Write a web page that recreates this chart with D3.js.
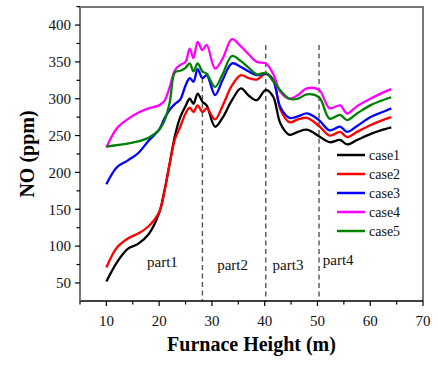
<!DOCTYPE html>
<html>
<head>
<meta charset="utf-8">
<script src="https://cdn.jsdelivr.net/npm/d3@7"></script>
<style>
  html, body { margin: 0; padding: 0; background: #fff; }
  svg { display: block; }
</style>
</head>
<body>
<svg id="chart" width="438" height="368" font-family="'Liberation Serif', 'Times New Roman', serif"></svg>
<script>
// Furnace heights (m) at which NO was sampled
const heights = [10, 12, 14, 16, 18, 20, 21, 22, 23, 24, 25, 25.8, 26.5, 27.3, 28.2, 29,
  30.6, 32, 33.8, 35.5, 37, 38.5, 40.2, 41.6, 43, 44.7, 46.3, 48, 50.3, 52.3, 54.3, 55.6,
  57.5, 60, 62, 64];

// NO concentration (ppm) for each case
const case1 = [52, 78, 96, 103, 116, 145, 175, 212, 250, 275, 290, 300, 293, 307, 296, 291,
  262, 274, 298, 314, 304, 298, 312, 303, 266, 251, 255, 258, 249, 241, 244, 238,
  244, 252, 257, 261];
const case2 = [71, 98, 110, 117, 127, 146, 174, 212, 245, 262, 280, 288, 282, 291, 282, 287,
  272, 290, 318, 332, 328, 326, 334, 326, 285, 268, 272, 274, 263, 250, 255, 248,
  255, 264, 270, 275];
const case3 = [184, 207, 216, 226, 243, 258, 273, 285, 293, 299, 318, 328, 323, 340, 328, 332,
  305, 325, 348, 343, 337, 332, 334, 325, 288, 274, 276, 280, 271, 257, 262, 255,
  263, 275, 281, 287];
const case4 = [234, 260, 272, 281, 287, 291, 297, 316, 339, 346, 350, 368, 355, 377, 366, 373,
  341, 354, 381, 371, 360, 350, 348, 334, 309, 300, 305, 314, 312, 287, 291, 280,
  290, 300, 307, 313];
const case5 = [235, 237, 239, 242, 247, 258, 270, 295, 336, 338, 342, 348, 337, 348, 337, 334,
  316, 333, 358, 351, 342, 333, 335, 324, 311, 300, 300, 306, 302, 273, 278, 271,
  280, 291, 297, 302];

const seriesNames = ["case1", "case2", "case3", "case4", "case5"];
const seriesColors = ["#000000", "#ff0000", "#0000ff", "#ff00ff", "#008000"];
const seriesValues = [case1, case2, case3, case4, case5];

// Section boundaries (m) and section labels
const partBounds = [28.2, 40.2, 50.3];
const partLabels = ["part1", "part2", "part3", "part4"];
const partLabelX = [17.7, 31, 41.5, 51];

const xTicks = [10, 20, 30, 40, 50, 60, 70];
const yTicks = [50, 100, 150, 200, 250, 300, 350, 400];

const svg = d3.select("#chart");
const margin = { left: 80, right: 15, top: 7, bottom: 67 };
const W = 438, H = 368;

const x = d3.scaleLinear().domain([5, 70]).range([margin.left, W - margin.right]);
const y = d3.scaleLinear().domain([25.5, 424.5]).range([H - margin.bottom, margin.top]);

// frame: top and right edges
svg.append("path")
  .attr("d", `M${x(5)},${y(424.5)} H${x(70)} V${y(25.5)}`)
  .attr("fill", "none").attr("stroke", "#777").attr("stroke-width", 2);

// section divider lines
const dividerTop = [328, 373, 373];
svg.append("g").selectAll("line").data(partBounds).join("line")
  .attr("x1", d => x(d)).attr("x2", d => x(d))
  .attr("y1", (d, i) => y(dividerTop[i])).attr("y2", y(25.5))
  .attr("stroke", "#555").attr("stroke-width", 1.4)
  .attr("stroke-dasharray", "5,3.5");

// curves
const line = d3.line()
  .x((d, i) => x(heights[i]))
  .y(d => y(d))
  .curve(d3.curveCatmullRom.alpha(0.5));

svg.append("g").selectAll("path").data(seriesValues).join("path")
  .attr("d", d => line(d))
  .attr("fill", "none")
  .attr("stroke", (d, i) => seriesColors[i])
  .attr("stroke-width", 2.3)
  .attr("stroke-linejoin", "round");

// x axis
const xAxis = svg.append("g").attr("transform", `translate(0,${y(25.5)})`);
xAxis.append("line").attr("x1", x(5)).attr("x2", x(70)).attr("stroke", "#000").attr("stroke-width", 1.3);
xAxis.selectAll(".tk").data(d3.range(5, 70.1, 5)).join("line")
  .attr("x1", d => x(d)).attr("x2", d => x(d))
  .attr("y1", 0).attr("y2", d => d % 10 === 0 ? 5 : 3.5)
  .attr("stroke", "#000").attr("stroke-width", 1.2);
xAxis.selectAll("text").data(xTicks).join("text")
  .attr("x", d => x(d)).attr("y", 25)
  .attr("text-anchor", "middle").attr("font-size", 15).attr("fill", "#111")
  .text(d => d);

// y axis
const yAxis = svg.append("g").attr("transform", `translate(${x(5)},0)`);
yAxis.append("line").attr("y1", y(25.5)).attr("y2", y(424.5)).attr("stroke", "#777").attr("stroke-width", 2);
yAxis.selectAll(".tk").data(d3.range(25, 425.1, 25).filter(d => d >= 25.5)).join("line")
  .attr("y1", d => y(d)).attr("y2", d => y(d))
  .attr("x1", d => d % 50 === 0 ? -5 : -3.5).attr("x2", 0)
  .attr("stroke", "#000").attr("stroke-width", 1.2);
yAxis.selectAll("text").data(yTicks).join("text")
  .attr("x", -9).attr("y", d => y(d)).attr("dy", "0.35em")
  .attr("text-anchor", "end").attr("font-size", 15).attr("fill", "#111")
  .text(d => d);

// axis titles
svg.append("text")
  .attr("x", (x(5) + x(70)) / 2).attr("y", 351)
  .attr("text-anchor", "middle").attr("font-size", 20).attr("font-weight", "bold")
  .text("Furnace Height (m)");
svg.append("text")
  .attr("transform", `translate(34,${(y(25.5) + y(424.5)) / 2}) rotate(-90)`)
  .attr("text-anchor", "middle").attr("font-size", 20).attr("font-weight", "bold")
  .text("NO (ppm)");

// section labels
const partBaseline = [267, 270, 270, 265];
svg.append("g").selectAll("text").data(partLabels).join("text")
  .attr("x", (d, i) => x(partLabelX[i]))
  .attr("y", (d, i) => partBaseline[i])
  .attr("font-size", 15).attr("fill", "#111")
  .text(d => d);

// legend
const legend = svg.append("g").attr("transform", "translate(337,155)");
seriesNames.forEach((name, i) => {
  const g = legend.append("g").attr("transform", `translate(0,${i * 19})`);
  g.append("line").attr("x1", 0).attr("x2", 28).attr("y1", 0).attr("y2", 0)
    .attr("stroke", seriesColors[i]).attr("stroke-width", 2.5);
  g.append("text").attr("x", 32).attr("y", 0).attr("dy", "0.35em")
    .attr("font-size", 14).attr("fill", "#111").text(name);
});
</script>
</body>
</html>
